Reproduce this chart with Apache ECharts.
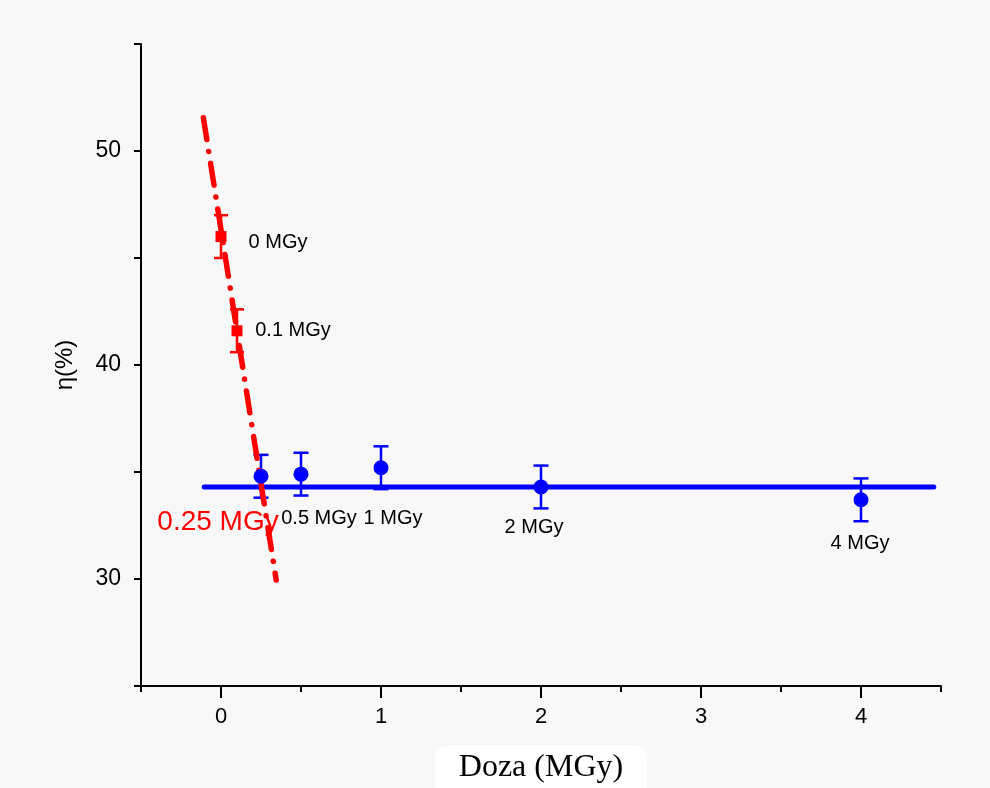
<!DOCTYPE html>
<html><head><meta charset="utf-8">
<script src="https://cdn.jsdelivr.net/npm/echarts@6/dist/echarts.min.js"></script>
<style>html,body{margin:0;padding:0;background:#f8f8f8}#c{width:990px;height:788px}</style>
</head><body><div id="c"></div>
<script>
// ---- data ----
const redDose = [0, 0.1];
const redEta = [46.0, 41.6];
const redErr = [1.0, 1.0];
const redLabels = ['0 MGy', '0.1 MGy'];
const blueDose = [0.25, 0.5, 1, 2, 4];
const blueEta = [34.8, 34.9, 35.2, 34.3, 33.7];
const blueErr = [1.0, 1.0, 1.0, 1.0, 1.0];
const blueLabels = ['0.25 MGy', '0.5 MGy', '1 MGy', '2 MGy', '4 MGy'];
const redFitX = [-0.11, 0.345];
const redFitY = [51.55, 29.95];
const blueFitX = [-0.105, 4.455];
const blueFitY = [34.3, 34.3];
const xMajorTicks = [0, 1, 2, 3, 4];
const xMinorTicks = [-0.5, 0.5, 1.5, 2.5, 3.5, 4.5];
const yTickLabels = [30, 40, 50];
const yTicks = [25, 30, 35, 40, 45, 50, 55];
const Y_MIN = 25, Y_MAX = 55, X_MIN = -0.5, X_MAX = 4.5;

// ---- label styling (offsets from point centre, px) ----
const redLabelStyle = [
  {offset: [57, 6], color: '#000', fontSize: 20},
  {offset: [56, 0], color: '#000', fontSize: 20}
];
const blueLabelStyle = [
  {offset: [-43, 46], color: '#ff0000', fontSize: 28},
  {offset: [18, 44], color: '#000', fontSize: 20},
  {offset: [12, 51], color: '#000', fontSize: 20},
  {offset: [-7, 41], color: '#000', fontSize: 20},
  {offset: [-1, 44], color: '#000', fontSize: 20}
];

const FONT = '"Liberation Sans", Arial, sans-serif';
const RED = '#ff0000', BLUE = '#0000ff';

function errorBars(xs, ys, es, color, cap) {
  return {
    type: 'custom', z: 3,
    encode: {x: 0, y: 1},
    data: xs.map((x, i) => [x, ys[i], es[i]]),
    renderItem: function (params, api) {
      const x = api.value(0), y = api.value(1), e = api.value(2);
      const hi = api.coord([x, y + e]), lo = api.coord([x, y - e]);
      const hw = cap / 2;
      const st = {stroke: color, lineWidth: 2.5};
      return {type: 'group', children: [
        {type: 'line', shape: {x1: hi[0], y1: hi[1], x2: lo[0], y2: lo[1]}, style: st},
        {type: 'line', shape: {x1: hi[0] - hw, y1: hi[1], x2: hi[0] + hw, y2: hi[1]}, style: st},
        {type: 'line', shape: {x1: lo[0] - hw, y1: lo[1], x2: lo[0] + hw, y2: lo[1]}, style: st}
      ]};
    }
  };
}

function pointData(xs, ys, labels, styles) {
  return xs.map((x, i) => ({
    value: [x, ys[i]],
    label: {
      show: true, formatter: labels[i], position: 'inside',
      offset: styles[i].offset, color: styles[i].color,
      fontSize: styles[i].fontSize, fontFamily: FONT
    }
  }));
}

const chart = echarts.init(document.getElementById('c'));
chart.setOption({
  backgroundColor: '#f8f8f8',
  animation: false,
  grid: {left: 141, right: 49, top: 44, bottom: 102, outerBoundsMode: 'none', containLabel: false},
  xAxis: [{
    type: 'value', min: X_MIN, max: X_MAX, gridIndex: 0, position: 'bottom',
    axisLine: {show: true, onZero: false, lineStyle: {color: '#000', width: 2}},
    axisTick: {show: true, customValues: xMinorTicks, length: 6, lineStyle: {color: '#000', width: 2}},
    axisLabel: {show: false},
    splitLine: {show: false}
  }, {
    type: 'value', min: X_MIN, max: X_MAX, gridIndex: 0, position: 'bottom', offset: 0,
    axisLine: {show: false, onZero: false},
    axisTick: {show: true, customValues: xMajorTicks, length: 12, lineStyle: {color: '#000', width: 2}},
    axisLabel: {show: true, customValues: xMajorTicks, margin: 20, fontSize: 22, color: '#000', fontFamily: FONT},
    splitLine: {show: false},
    name: 'Doza (MGy)', nameLocation: 'middle', nameGap: 60,
    nameTextStyle: {fontFamily: '"Liberation Serif", "Times New Roman", serif', fontSize: 32, color: '#000',
      backgroundColor: '#ffffff', borderRadius: 12, padding: [6, 24, 14, 24]}
  }],
  yAxis: {
    type: 'value', min: Y_MIN, max: Y_MAX,
    axisLine: {show: true, onZero: false, lineStyle: {color: '#000', width: 2}},
    axisTick: {show: true, customValues: yTicks, length: 7, lineStyle: {color: '#000', width: 2}},
    axisLabel: {show: true, customValues: yTickLabels, margin: 20, fontSize: 23, color: '#000', fontFamily: FONT},
    splitLine: {show: false},
    name: 'η(%)', nameLocation: 'middle', nameGap: 64, nameRotate: 90,
    nameTextStyle: {fontFamily: FONT, fontSize: 24, color: '#000'}
  },
  series: [
    {
      type: 'line', z: 2, symbol: 'none', silent: true,
      data: blueFitX.map((x, i) => [x, blueFitY[i]]),
      lineStyle: {color: BLUE, width: 5, cap: 'round'}
    },
    {
      type: 'line', z: 4, symbol: 'none', silent: true,
      data: redFitX.map((x, i) => [x, redFitY[i]]),
      lineStyle: {color: RED, width: 5.5, cap: 'round', type: [22, 12, 0.1, 12]}
    },
    errorBars(redDose, redEta, redErr, RED, 14),
    errorBars(blueDose, blueEta, blueErr, BLUE, 15),
    {
      type: 'scatter', z: 5, symbol: 'rect', symbolSize: 11,
      itemStyle: {color: RED, opacity: 1},
      data: pointData(redDose, redEta, redLabels, redLabelStyle)
    },
    {
      type: 'scatter', z: 5, symbol: 'circle', symbolSize: 15,
      itemStyle: {color: BLUE, opacity: 1},
      data: pointData(blueDose, blueEta, blueLabels, blueLabelStyle)
    }
  ]
});
</script>
</body></html>
